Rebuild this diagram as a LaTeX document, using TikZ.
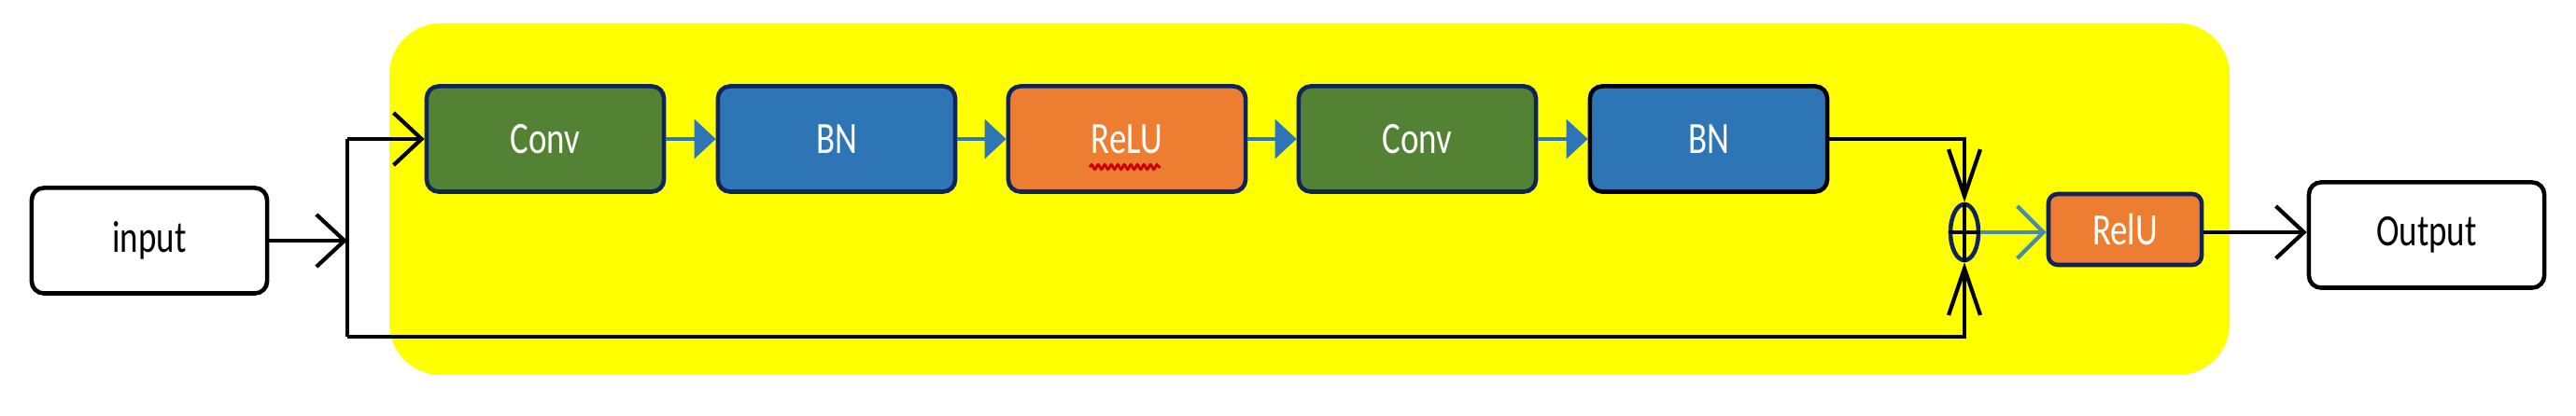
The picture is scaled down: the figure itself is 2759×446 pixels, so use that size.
\documentclass[tikz,border=0pt]{standalone}
\usepackage{fontspec}
\setmainfont{Carlito}
\usetikzlibrary{arrows.meta,shapes.geometric,decorations.pathmorphing}
\definecolor{ybg}{RGB}{255,255,0}
\definecolor{cgreen}{RGB}{84,130,53}
\definecolor{cblue}{RGB}{46,117,182}
\definecolor{corange}{RGB}{237,125,49}
\definecolor{cnavy}{RGB}{16,36,92}
\definecolor{cteal}{RGB}{72,140,170}
\newcommand{\tallt}[1]{\scalebox{1}[1.3]{#1}}
\begin{document}
\begin{tikzpicture}[x=0.01cm,y=-0.01cm,
  blk/.style={draw=cnavy,line width=1.3pt,rounded corners=0.13cm,minimum width=2.54cm,minimum height=1.13cm,inner sep=0pt,text=white,font=\fontsize{10.5}{12}\selectfont},
  iobox/.style={draw=black,fill=white,line width=1.3pt,rounded corners=0.13cm,minimum width=2.52cm,minimum height=1.13cm,inner sep=0pt,text=black,font=\fontsize{10.5}{12}\selectfont},
  blink/.style={draw=cblue,line width=1pt,-{Triangle[length=0.23cm,width=0.42cm]}},
  blackarr/.style={draw=black,line width=1.2pt,-{Straight Barb[length=0.3cm,width=0.56cm,line width=1.2pt]}},
  vertarr/.style={draw=black,line width=1.2pt,-{Straight Barb[length=0.5cm,width=0.34cm,line width=1.2pt]}},
  conn/.style={draw=black,line width=1.2pt}]
\useasboundingbox (0,0) rectangle (2759,446);
% yellow block background
\fill[ybg,rounded corners=0.55cm] (417,25) rectangle (2388,402);
% nodes
\node[iobox] (input) at (160,258) {\tallt{input}};
\node[blk,fill=cgreen] (conv1) at (584,149) {\tallt{Conv}};
\node[blk,fill=cblue] (bn1) at (896,149) {\tallt{BN}};
\node[blk,fill=corange] (relu1) at (1207,149) {\tallt{ReLU}};
\node[blk,fill=cgreen] (conv2) at (1518,149) {\tallt{Conv}};
\node[blk,fill=cblue,draw=black] (bn2) at (1830,149) {\tallt{BN}};
\node[draw=cnavy,line width=1.3pt,ellipse,minimum width=0.3cm,minimum height=0.6cm,inner sep=0pt] (plus) at (2104,249) {};
\node[blk,fill=corange,minimum width=1.64cm,minimum height=0.76cm,rounded corners=0.1cm] (relu2) at (2276,246) {\tallt{RelU}};
\node[iobox] (output) at (2599,252) {\tallt{Output}};
% wavy spell-check underline
\draw[red!80!black,line width=0.8pt,decorate,decoration={snake,amplitude=0.025cm,segment length=0.07cm}] (1167,179) -- (1243,179);
% plus sign
\draw[black,line width=1pt] (plus.north) -- (plus.south);
\draw[black,line width=1pt] (plus.west) -- (plus.east);
% coordinates
\coordinate (split) at (372,258);
\coordinate (stop) at (372,149);
\coordinate (sbot) at (372,361);
\coordinate (pbot) at (2104,361);
\coordinate (ptop) at (2104,149);
% connectors
\draw[blackarr] (input.east) -- (split);
\draw[conn] (stop) -- (sbot);
\draw[blackarr] (stop) -- (conv1.west);
\draw[vertarr] (sbot) -- (pbot) -- (plus.south);
\draw[vertarr] (bn2.east) -- (ptop) -- (plus.north);
\draw[blink] (conv1.east) -- (bn1.west);
\draw[blink] (bn1.east) -- (relu1.west);
\draw[blink] (relu1.east) -- (conv2.west);
\draw[blink] (conv2.east) -- (bn2.west);
\draw[draw=cteal,line width=1.2pt,-{Straight Barb[length=0.28cm,width=0.56cm,line width=1.2pt]}] (plus.east) -- (plus.east -| relu2.west);
\draw[blackarr] (relu2.east |- 0,249) -- (output.west |- 0,249);
\end{tikzpicture}
\end{document}
